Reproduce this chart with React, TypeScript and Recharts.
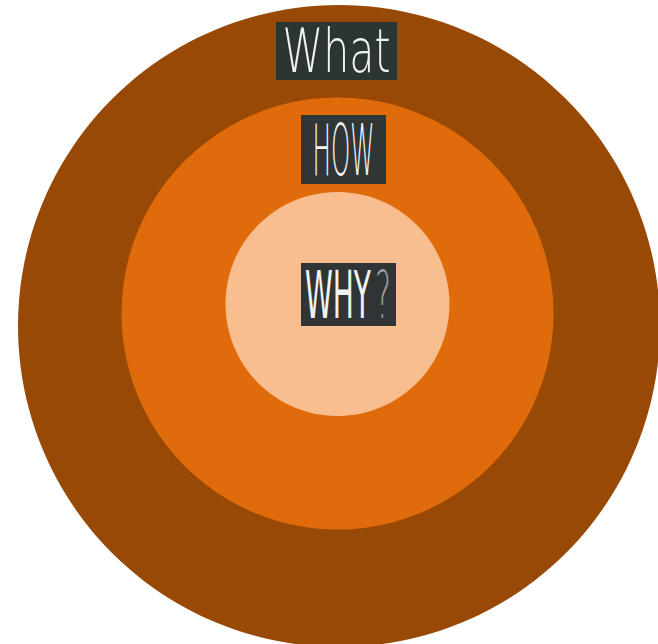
import React from "react";
import { PieChart, Pie, Cell } from "recharts";

// rings from outside in
const ringNames = ["What", "HOW", "WHY?"];
const ringValues = [1, 1, 1];
const ringColors = ["#984906", "#e06b0a", "#f8be8f"];

const W = 658;
const H = 644;

// layout per ring (pixels) - kept apart from the data
const ringLayout = [
  { cx: 339, cy: 326, r: 321 },
  { cx: 337.5, cy: 313.5, r: 216 },
  { cx: 337.5, cy: 304, r: 112 },
];

// em: rough DejaVu advance width of the word in em, used to squeeze it with a scale
const boxStyle = [
  { w: 121, h: 58, dx: -2.5, top: 17, fill: "#2b3633", size: 60, len: 108, em: 2.63, weight: 200, base: 50 },
  { w: 85, h: 69, dx: 6, top: 17.5, fill: "#303535", size: 71, len: 62, em: 2.53, weight: 200, base: 60 },
  { w: 95, h: 63, dx: 11, top: null, fill: "#303434", size: 66, len: 66, em: 2.35, weight: 400, base: 55 },
];

function Squeezed({ x, y, text, size, len, em, weight, fill }: any) {
  const sx = len / (em * size);
  return (
    <text
      transform={`translate(${x},${y}) scale(${sx},1)`}
      x={0}
      y={0}
      textAnchor="start"
      fontFamily="DejaVu Sans"
      fontWeight={weight}
      fontSize={size}
      fill={fill}
      textLength={len / sx}
      lengthAdjust="spacingAndGlyphs"
    >
      {text}
    </text>
  );
}

function makeLabel(i: number) {
  return (props: any) => {
    const { cx, cy, outerRadius } = props;
    const s = boxStyle[i];
    const mid = cx + s.dx;
    const x = mid - s.w / 2;
    const y = s.top === null ? cy - 41 : cy - outerRadius + s.top;
    const name = ringNames[i];
    const q = name.endsWith("?");
    const word = q ? name.slice(0, -1) : name;
    return (
      <g>
        <rect x={x} y={y} width={s.w} height={s.h} fill={s.fill} />
        {q ? (
          <>
            <Squeezed x={x + 4} y={y + s.base} text={word} size={s.size} len={s.len} em={s.em} weight={s.weight} fill="#f2f2f2" />
            <Squeezed x={x + 74} y={y + s.base} text="?" size={s.size} len={16} em={0.53} weight={200} fill="#9c9c9c" />
          </>
        ) : (
          <Squeezed x={mid - s.len / 2} y={y + s.base} text={word} size={s.size} len={s.len} em={s.em} weight={s.weight} fill="#f2f2f2" />
        )}
      </g>
    );
  };
}

export default function App() {
  return (
    <div style={{ position: "absolute", left: 0, top: 0, width: W, height: H, background: "#fff" }}>
      <PieChart width={W} height={H} margin={{ top: 0, right: 0, bottom: 0, left: 0 }}>
        {ringNames.map((name, i) => (
          <Pie
            key={name}
            data={[{ name, value: ringValues[i] }]}
            dataKey="value"
            cx={ringLayout[i].cx}
            cy={ringLayout[i].cy}
            innerRadius={0}
            outerRadius={ringLayout[i].r}
            startAngle={90}
            endAngle={450}
            stroke="none"
            label={makeLabel(i)}
            labelLine={false}
            isAnimationActive={false}
          >
            <Cell fill={ringColors[i]} />
          </Pie>
        ))}
      </PieChart>
    </div>
  );
}
